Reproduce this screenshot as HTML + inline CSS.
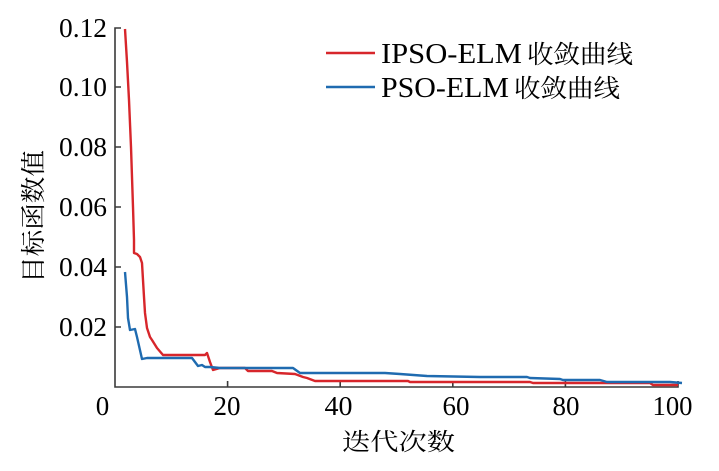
<!DOCTYPE html>
<html><head><meta charset="utf-8"><style>
html,body{margin:0;padding:0;background:#fff;}
svg{display:block;}
text{font-family:"Liberation Serif","Noto Serif CJK SC",serif;fill:#000;}
.cjk{font-family:"Noto Serif CJK SC","Noto Sans CJK SC",serif;}
</style></head><body>
<svg width="719" height="471" viewBox="0 0 719 471" xmlns="http://www.w3.org/2000/svg">
<rect width="719" height="471" fill="#fff"/>
<g stroke="#3a3a3a" stroke-width="1.6" fill="none">
<path d="M121,28 H115 V387 H678 V381"/>
<path d="M115,87 H121 M115,147 H121 M115,207 H121 M115,267 H121 M115,327 H121"/>
<path d="M227.6,387 V381 M340.2,387 V381 M452.8,387 V381 M565.4,387 V381"/>
</g>
<g font-size="27" text-anchor="end">
<text x="107" y="37" textLength="48" lengthAdjust="spacingAndGlyphs">0.12</text>
<text x="107" y="96" textLength="48" lengthAdjust="spacingAndGlyphs">0.10</text>
<text x="107" y="156" textLength="48" lengthAdjust="spacingAndGlyphs">0.08</text>
<text x="107" y="216" textLength="48" lengthAdjust="spacingAndGlyphs">0.06</text>
<text x="107" y="276" textLength="48" lengthAdjust="spacingAndGlyphs">0.04</text>
<text x="107" y="336" textLength="48" lengthAdjust="spacingAndGlyphs">0.02</text>
</g>
<g font-size="27" text-anchor="middle">
<text x="102.5" y="415">0</text>
<text x="227" y="415" textLength="27" lengthAdjust="spacingAndGlyphs">20</text>
<text x="338.5" y="415" textLength="28" lengthAdjust="spacingAndGlyphs">40</text>
<text x="456" y="415" textLength="27" lengthAdjust="spacingAndGlyphs">60</text>
<text x="566" y="415" textLength="27" lengthAdjust="spacingAndGlyphs">80</text>
<text x="672.5" y="415" textLength="40" lengthAdjust="spacingAndGlyphs">100</text>
</g>
<text class="cjk" x="398.5" y="450" font-size="24" text-anchor="middle" textLength="113" lengthAdjust="spacingAndGlyphs">迭代次数</text>
<text class="cjk" transform="translate(42,216.5) rotate(-90)" x="0" y="0" font-size="25" text-anchor="middle" textLength="133" lengthAdjust="spacingAndGlyphs">目标函数值</text>
<polyline fill="none" stroke="#d7262b" stroke-width="2.4" stroke-linejoin="round" points="125,29 127,62 129,100 131,147 133,207 134,240 134,253 137,254 140,257 142,263 143,280 144,297 145,313 147,328 150,337 152,340 157,348 163,355 205,355 207,353 210,362 213,370 220,368 245,368 248,371 272,371 277,373 295,374 303,377 307,378 315,381 408,381 410,382 530,382 533,383 650,383 653,385 678,385"/>
<polyline fill="none" stroke="#1f6bb0" stroke-width="2.4" stroke-linejoin="round" points="125,272 127,297 128,318 130,330 135,329 137,337 142,359 147,358 192,358 198,366 202,365 205,367 210,367 220,368 293,368 300,373 385,373 400,374 427,376 480,377 527,377 530,378 560,379 563,380 600,380 607,382 670,382 682,383"/>
<line x1="326" y1="53" x2="375" y2="53" stroke="#d7262b" stroke-width="2.4"/>
<line x1="326" y1="87" x2="375" y2="87" stroke="#1f6bb0" stroke-width="2.4"/>
<g font-size="28">
<text x="381" y="63" textLength="141" lengthAdjust="spacingAndGlyphs">IPSO-ELM</text>
<text class="cjk" x="527" y="63" font-size="25" textLength="106" lengthAdjust="spacingAndGlyphs">收敛曲线</text>
<text x="381" y="97" textLength="128" lengthAdjust="spacingAndGlyphs">PSO-ELM</text>
<text class="cjk" x="514" y="97" font-size="25" textLength="106" lengthAdjust="spacingAndGlyphs">收敛曲线</text>
</g>
</svg>
</body></html>
